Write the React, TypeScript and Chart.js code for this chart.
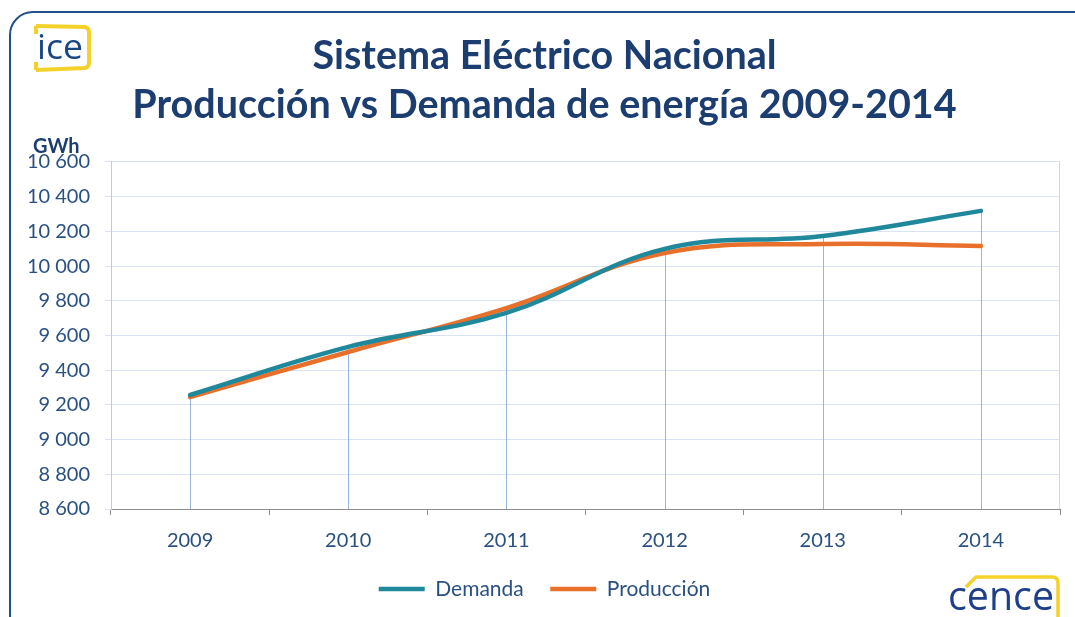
import React, { useEffect, useRef } from 'react';
import { Chart, registerables } from 'chart.js';

Chart.register(...registerables);

const YEARS = ['2009', '2010', '2011', '2012', '2013', '2014'];
const DEMANDA = [9257, 9534, 9730, 10099, 10173, 10318];
const PRODUCCION = [9245, 9505, 9758, 10075, 10127, 10116];
const SERIES_NAMES = ['Demanda', 'Producción'];
const TITLE_LINES = ['Sistema Eléctrico Nacional', 'Producción vs Demanda de energía 2009-2014'];
const Y_MIN = 8600;
const Y_MAX = 10600;
const Y_STEP = 200;
const Y_UNIT = 'GWh';

const TITLE_COLOR = '#1C3D6F';
const TICK_COLOR = '#2A5082';
const TEAL = '#1F889B';
const ORANGE = '#E8702A';
const FONT = 'Lato, "Open Sans", sans-serif';

const fmt = (v: number) => String(v).replace(/\B(?=(\d{3})+(?!\d))/g, ' ');

const dropLines = {
  id: 'dropLines',
  beforeDatasetsDraw(chart: any) {
    const { ctx, chartArea, scales } = chart;
    const xs = scales.x;
    const ys = scales.y;
    ctx.save();
    ctx.lineWidth = 1;
    ctx.strokeStyle = '#C9D9EF';
    ctx.beginPath();
    ctx.moveTo(Math.round(chartArea.right) - 0.5, chartArea.top);
    ctx.lineTo(Math.round(chartArea.right) - 0.5, chartArea.bottom);
    ctx.stroke();
    ctx.strokeStyle = '#94B6E0';
    chart.data.labels.forEach((_: any, i: number) => {
      const top = Math.max(...chart.data.datasets.map((d: any) => d.data[i]));
      const px = Math.round(xs.getPixelForValue(i)) + 0.5;
      ctx.beginPath();
      ctx.moveTo(px, ys.getPixelForValue(top));
      ctx.lineTo(px, chartArea.bottom);
      ctx.stroke();
    });
    ctx.restore();
  },
};

function IceLogo() {
  return (
    <svg width={70} height={60} viewBox="0 0 70 60" style={{ position: 'absolute', left: 27, top: 19 }}>
      <path d="M9 7 L58 8 Q62 9 62 13 L62 44 Q62 48 58 49 L9 51" fill="none" stroke="#F4D22A" strokeWidth={4} strokeLinejoin="round" />
      <path d="M9 7 L9 15 M9 43 L9 51" fill="none" stroke="#F4D22A" strokeWidth={4} />
      <text x={10} y={40} fontFamily='"Open Sans", sans-serif' fontSize={34} fill="#1A4784" textLength={46} lengthAdjust="spacingAndGlyphs">ice</text>
    </svg>
  );
}

function CenceLogo() {
  return (
    <svg width={130} height={60} viewBox="0 0 130 60" style={{ position: 'absolute', left: 940, top: 565 }}>
      <path d="M26 22 L36 12 L112 12 Q118 12 118 18 L118 58" fill="none" stroke="#F4D22A" strokeWidth={3.5} strokeLinejoin="round" />
      <text x={8} y={45} fontFamily='"Open Sans", sans-serif' fontSize={40} fill="#1E3F8C" textLength={106} lengthAdjust="spacingAndGlyphs">cence</text>
    </svg>
  );
}

export default function App() {
  const canvasRef = useRef<HTMLCanvasElement | null>(null);

  useEffect(() => {
    if (!canvasRef.current) return;
    const chart = new Chart(canvasRef.current, {
      type: 'line',
      data: {
        labels: YEARS,
        datasets: [
          {
            label: SERIES_NAMES[0],
            data: DEMANDA,
            borderColor: TEAL,
            backgroundColor: TEAL,
            borderWidth: 4.5,
            tension: 0.4,
            pointRadius: 0,
            pointHoverRadius: 0,
            pointStyle: 'line',
            borderCapStyle: 'round',
          },
          {
            label: SERIES_NAMES[1],
            data: PRODUCCION,
            borderColor: ORANGE,
            backgroundColor: ORANGE,
            borderWidth: 4.5,
            tension: 0.4,
            pointRadius: 0,
            pointHoverRadius: 0,
            pointStyle: 'line',
            borderCapStyle: 'round',
          },
        ],
      },
      options: {
        responsive: false,
        animation: false,
        devicePixelRatio: 1,
        layout: { padding: { left: 29, right: 15, top: 0, bottom: 7.5 } },
        plugins: {
          title: {
            display: true,
            text: TITLE_LINES,
            color: TITLE_COLOR,
            font: { family: FONT, size: 39.5, weight: 'bold', lineHeight: 1.24 },
            padding: { top: 32, bottom: 32 },
          },
          legend: {
            position: 'bottom',
            labels: {
              usePointStyle: true,
              pointStyleWidth: 46,
              color: TICK_COLOR,
              font: { family: FONT, size: 21 },
              padding: 26.5,
            },
          },
          tooltip: { enabled: false },
        },
        scales: {
          x: {
            offset: true,
            grid: { offset: true, drawOnChartArea: false, drawTicks: true, tickLength: 6, color: '#8C8C8C' },
            border: { color: '#8C8C8C', width: 1 },
            ticks: { color: TICK_COLOR, font: { family: FONT, size: 20 }, padding: 14 },
            afterFit: (s: any) => { s.height = 43; },
          },
          y: {
            min: Y_MIN,
            max: Y_MAX,
            ticks: {
              stepSize: Y_STEP,
              color: TICK_COLOR,
              font: { family: FONT, size: 20 },
              padding: 15,
              callback: (v: any) => fmt(Number(v)),
            },
            grid: { color: '#D8E4F4', tickLength: 6 },
            border: { color: '#BACDE8', width: 1 },
            afterFit: (s: any) => { s.width = 82; },
          },
        },
      },
      plugins: [dropLines],
    } as any);
    return () => chart.destroy();
  }, []);

  return (
    <div style={{ position: 'absolute', left: 0, top: 0, width: 1075, height: 617, overflow: 'hidden', background: '#fff' }}>
      <div
        style={{
          position: 'absolute',
          left: 9,
          top: 11,
          width: 1100,
          height: 640,
          border: '2.5px solid #234F8A',
          borderRadius: 24,
          boxSizing: 'border-box',
        }}
      />
      <canvas ref={canvasRef} width={1075} height={617} style={{ position: 'absolute', left: 0, top: 0 }} />
      <div
        style={{
          position: 'absolute',
          left: 33,
          top: 135,
          fontFamily: FONT,
          fontWeight: 700,
          fontSize: 20,
          lineHeight: '20px',
          color: TITLE_COLOR,
        }}
      >
        {Y_UNIT}
      </div>
      <IceLogo />
      <CenceLogo />
    </div>
  );
}
